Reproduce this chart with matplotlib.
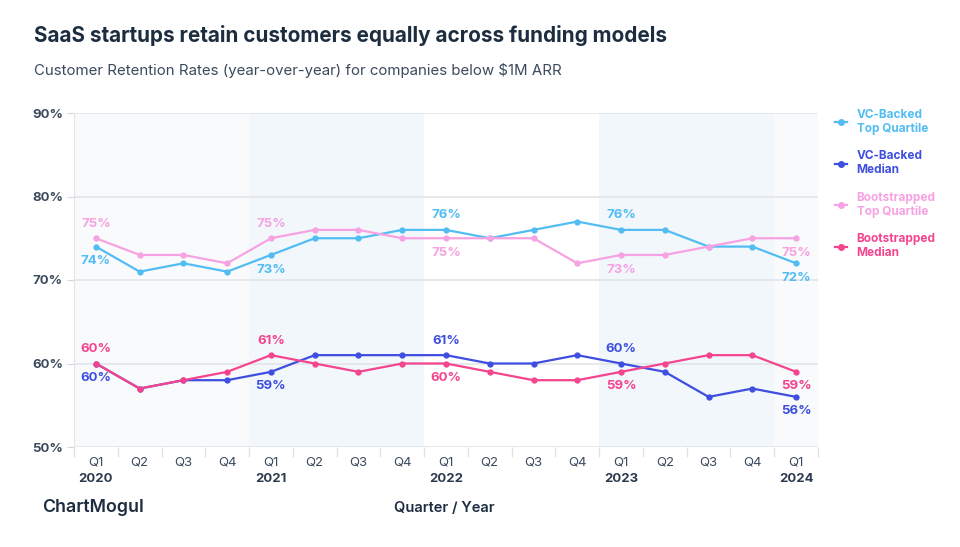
import matplotlib
matplotlib.use("Agg")
import matplotlib.pyplot as plt
import numpy as np

plt.rcParams['font.family'] = ['Inter', 'DejaVu Sans']

quarters = ["Q1", "Q2", "Q3", "Q4"] * 4 + ["Q1"]
years = ["2020", "", "", "", "2021", "", "", "", "2022", "", "", "", "2023", "", "", "", "2024"]

vc_top = [74, 71, 72, 71, 73, 75, 75, 76, 76, 75, 76, 77, 76, 76, 74, 74, 72]
vc_median = [60, 57, 58, 58, 59, 61, 61, 61, 61, 60, 60, 61, 60, 59, 56, 57, 56]
boot_top = [75, 73, 73, 72, 75, 76, 76, 75, 75, 75, 75, 72, 73, 73, 74, 75, 75]
boot_median = [60, 57, 58, 59, 61, 60, 59, 60, 60, 59, 58, 58, 59, 60, 61, 61, 59]

series_names = ["VC-Backed\nTop Quartile", "VC-Backed\nMedian",
                "Bootstrapped\nTop Quartile", "Bootstrapped\nMedian"]
colors = ["#52bdf3", "#3e4ee0", "#f7a2e2", "#f4448e"]

y_ticks = [50, 60, 70, 80, 90]

# label placement at year starts: (series index, x index, direction)
label_idx = [0, 4, 8, 12, 16]
label_dir = {
    0: [-1, -1, 1, 1, -1],   # vc_top
    1: [-1, -1, 1, 1, -1],   # vc_median
    2: [1, 1, -1, -1, -1],   # boot_top
    3: [1, 1, -1, -1, -1],   # boot_median
}

fig = plt.figure(figsize=(9.6, 5.47), dpi=100)
ax = fig.add_axes([74/960, 1-447/547, (818-74)/960, (447-113)/547])

x = np.arange(len(quarters))
# background year bands
band_colors = ["#f9fafb", "#f2f7fc", "#ffffff", "#f2f7fc", "#f9fafb"]
for i, c in enumerate(band_colors):
    ax.axvspan(-0.5 + 4*i, min(3.5 + 4*i, 16.5), color=c, zorder=0, lw=0)

for yv in y_ticks:
    ax.axhline(yv, color="#e2e5e9", lw=1.2, zorder=1)

all_series = [vc_top, vc_median, boot_top, boot_median]
draw_order = [2, 0, 3, 1]
handles = [None]*4
for si in draw_order:
    s = all_series[si]
    h, = ax.plot(x, s, color=colors[si], lw=1.6, marker="o", ms=3.5, zorder=3 + si*0.1,
                 label=series_names[si])
    handles[si] = h
    for k, xi in enumerate(label_idx):
        d = label_dir[si][k]
        ax.annotate(f"{s[xi]}%", (xi, s[xi]), xytext=(0, 10.5*d), textcoords="offset points",
                    ha="center", va="center", color=colors[si], fontsize=9.5,
                    fontweight="bold", zorder=5)

ax.set_xlim(-0.5, 16.5)
ax.set_ylim(50, 90)
ax.set_yticks(y_ticks)
ax.set_yticklabels([f"{v}%" for v in y_ticks], fontsize=9.5, fontweight="bold", color="#3b4a5c")
ax.tick_params(axis="y", length=5, color="#d5d9de", pad=3)
ax.set_xticks(x)
ax.set_xticklabels(quarters, fontsize=9.5, color="#3b4a5c")
ax.tick_params(axis="x", length=0, pad=7)
ax.set_xticks(np.arange(-0.5, 17, 1), minor=True)
ax.tick_params(axis="x", which="minor", length=7, color="#dfe2e6", width=1)
for xi, yr in zip(x, years):
    if yr:
        ax.text(xi, -0.095, yr, transform=ax.get_xaxis_transform(), ha="center", va="center",
                fontsize=9.5, fontweight="bold", color="#2d3b4e")
for sp in ["top", "right", "bottom"]:
    ax.spines[sp].set_visible(False)
ax.spines["left"].set_color("#e2e5e9")

leg = ax.legend(handles=handles, loc="upper left", bbox_to_anchor=(1.017, 1.027),
                frameon=False, handlelength=1.0, handletextpad=0.8, labelspacing=1.3,
                prop={"weight": "bold", "size": 8.5}, labelcolor="linecolor", borderaxespad=0)
for h in leg.legend_handles:
    h.set_markersize(4)

fig.text(34/960, 1-36/547, "SaaS startups retain customers equally across funding models",
         fontsize=14.9, fontweight="bold", color="#1d2d40", va="center", ha="left")
fig.text(34/960, 1-70/547, "Customer Retention Rates (year-over-year) for companies below $1M ARR",
         fontsize=10.8, color="#3b4a5c", va="center", ha="left")
fig.text(42/960, 1-508/547, "ChartMogul", fontsize=12.8, fontweight="semibold", color="#1d2d40",
         va="center", ha="left")
fig.text(444/960, 1-508/547, "Quarter / Year", fontsize=10.6, fontweight="semibold",
         color="#1d2d40", va="center", ha="center")

fig.savefig("out.png", dpi=100)
